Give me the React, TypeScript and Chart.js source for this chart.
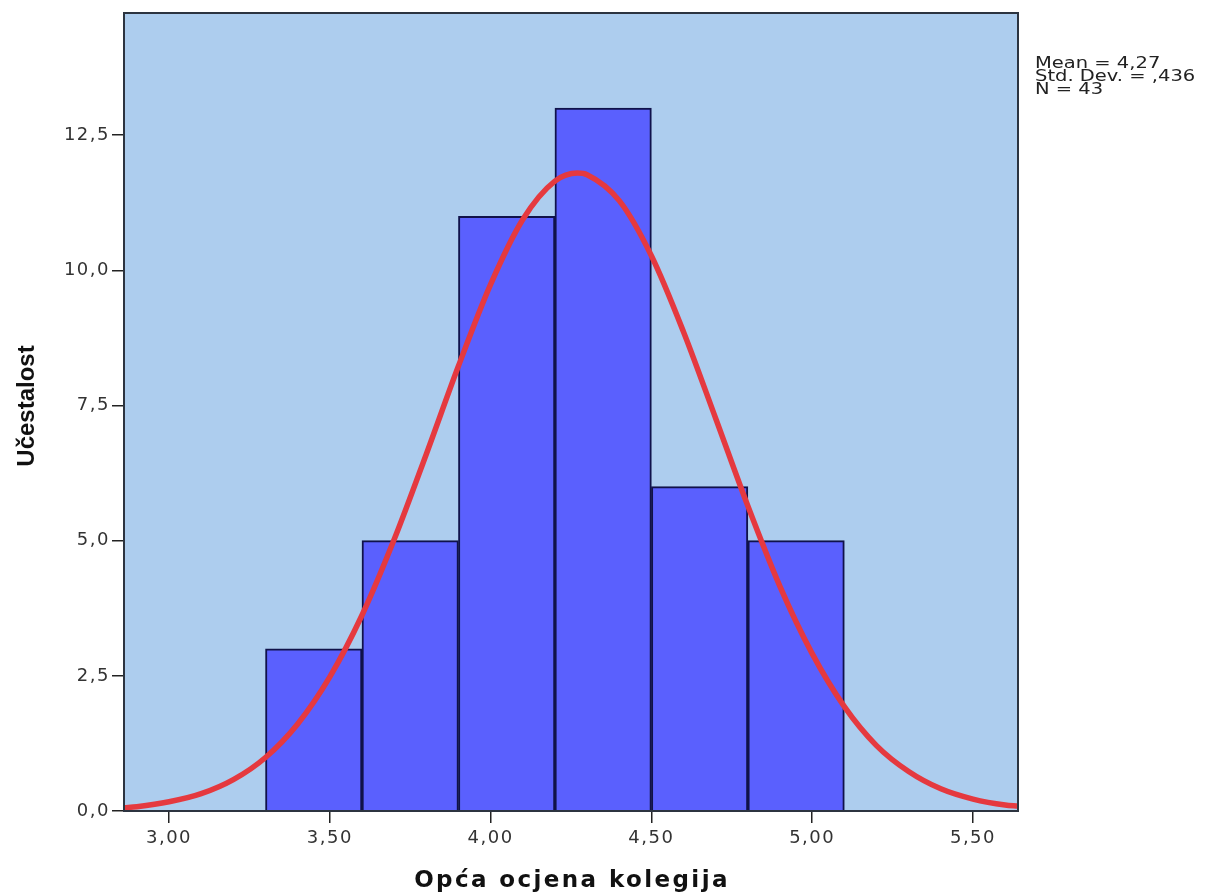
import React, { useEffect, useRef } from "react";
import { Chart, registerables } from "chart.js";

Chart.register(...registerables);

// ---- data ----
const binStarts = [3.3, 3.6, 3.9, 4.2, 4.5, 4.8];
const binWidth = 0.3;
const counts = [3, 5, 11, 13, 6, 5];

// fitted normal curve
const curveX = [2.86, 2.9, 3.0, 3.1, 3.2, 3.3, 3.4, 3.5, 3.6, 3.7, 3.8, 3.9, 4.0, 4.1, 4.2, 4.27, 4.3, 4.4, 4.5, 4.6, 4.7, 4.8, 4.9, 5.0, 5.1, 5.2, 5.3, 5.4, 5.5, 5.6, 5.64];
const curveY = [0.06, 0.08, 0.17, 0.32, 0.58, 0.99, 1.61, 2.48, 3.62, 5.02, 6.6, 8.23, 9.74, 10.94, 11.65, 11.8, 11.77, 11.29, 10.27, 8.86, 7.26, 5.64, 4.15, 2.91, 1.93, 1.21, 0.73, 0.41, 0.22, 0.11, 0.09];

const xTicks = [3.0, 3.5, 4.0, 4.5, 5.0, 5.5];
const yTicks = [0, 2.5, 5.0, 7.5, 10.0, 12.5];
const xMin = 2.86;
const xMax = 5.64;
const yMax = 14.76;

const statsLines = ["Mean = 4,27", "Std. Dev. = ,436", "N = 43"];
const xTitle = "Opća ocjena kolegija";
const yTitle = "Učestalost";

const decorPlugin = {
  id: "decor",
  beforeDraw(chart: any) {
    const { ctx, chartArea: a } = chart;
    ctx.save();
    ctx.fillStyle = "#adcdee";
    ctx.fillRect(a.left, a.top, a.right - a.left, a.bottom - a.top);
    ctx.restore();
    (ctx as any).letterSpacing = "1.5px";
  },
  afterDatasetsDraw(chart: any) {
    const { ctx, chartArea: a } = chart;
    ctx.save();
    ctx.strokeStyle = "#2c3440";
    ctx.lineWidth = 2;
    ctx.strokeRect(a.left, a.top, a.right - a.left, a.bottom - a.top);
    ctx.restore();
  },
  afterDraw(chart: any) {
    const { ctx, chartArea: a } = chart;
    (ctx as any).letterSpacing = "0px";
    // x title
    ctx.save();
    ctx.fillStyle = "#111";
    ctx.font = "bold 23px 'DejaVu Sans'";
    (ctx as any).letterSpacing = "2.4px";
    ctx.textAlign = "center";
    ctx.textBaseline = "alphabetic";
    ctx.fillText(xTitle, (a.left + a.right) / 2 + 1, 887);
    ctx.restore();
    // y title
    ctx.save();
    ctx.fillStyle = "#111";
    ctx.font = "bold 24px 'Liberation Sans', Arial, sans-serif";
    ctx.translate(34, 406);
    ctx.rotate(-Math.PI / 2);
    ctx.textAlign = "center";
    ctx.textBaseline = "alphabetic";
    ctx.fillText(yTitle, 0, 0);
    ctx.restore();
    // stats
    ctx.save();
    ctx.fillStyle = "#222";
    ctx.font = "15px 'DejaVu Sans'";
    ctx.textAlign = "left";
    ctx.textBaseline = "alphabetic";
    statsLines.forEach((line, i) => {
      ctx.save();
      ctx.translate(a.right + 17, 68 + i * 13);
      ctx.scale(1.3, 1);
      ctx.fillText(line, 0, 0);
      ctx.restore();
    });
    ctx.restore();
  },
};

export default function App() {
  const canvasRef = useRef<HTMLCanvasElement | null>(null);

  useEffect(() => {
    if (!canvasRef.current) return;
    const barData = binStarts.map((s, i) => ({ x: s + binWidth / 2, y: counts[i] }));
    const lineData = curveX.map((x, i) => ({ x, y: curveY[i] }));

    const chart = new Chart(canvasRef.current, {
      type: "bar",
      data: {
        datasets: [
          {
            type: "line",
            data: lineData,
            borderColor: "#e5393f",
            borderWidth: 5.5,
            pointRadius: 0,
            cubicInterpolationMode: "monotone",
            fill: false,
            order: 0,
          } as any,
          {
            type: "bar",
            data: barData,
            backgroundColor: "#5a60fe",
            borderColor: "#10124a",
            borderWidth: 2,
            barPercentage: 1,
            categoryPercentage: 1,
            order: 1,
          } as any,
        ],
      },
      options: {
        animation: false,
        responsive: true,
        maintainAspectRatio: false,
        layout: { padding: { top: 13, right: 188, bottom: 0, left: 0 } },
        plugins: { legend: { display: false }, tooltip: { enabled: false } },
        scales: {
          x: {
            type: "linear",
            min: xMin,
            max: xMax,
            offset: false,
            border: { display: false },
            grid: { offset: false, drawOnChartArea: false, drawTicks: true, tickLength: 12, color: "#222", lineWidth: 1.5 },
            afterBuildTicks: (scale: any) => {
              scale.ticks = xTicks.map((v) => ({ value: v }));
            },
            afterFit: (scale: any) => {
              scale.height = 82;
            },
            ticks: {
              autoSkip: false,
              maxRotation: 0,
              padding: 5,
              color: "#333",
              font: { family: "'DejaVu Sans'", size: 18 },
              callback: (v: any) => Number(v).toFixed(2).replace(".", ","),
            },
          },
          y: {
            type: "linear",
            min: 0,
            max: yMax,
            border: { display: false },
            grid: { drawOnChartArea: false, drawTicks: true, tickLength: 12, color: "#222", lineWidth: 1.5 },
            afterBuildTicks: (scale: any) => {
              scale.ticks = yTicks.map((v) => ({ value: v }));
            },
            afterFit: (scale: any) => {
              scale.width = 124;
            },
            ticks: {
              autoSkip: false,
              padding: 2,
              color: "#333",
              font: { family: "'DejaVu Sans'", size: 18 },
              callback: (v: any) => Number(v).toFixed(1).replace(".", ","),
            },
          },
        },
      } as any,
      plugins: [decorPlugin],
    });
    return () => chart.destroy();
  }, []);

  return (
    <div style={{ position: "absolute", left: 0, top: 0, width: 1206, height: 893, background: "#fff" }}>
      <canvas ref={canvasRef} style={{ width: "100%", height: "100%" }} />
    </div>
  );
}
